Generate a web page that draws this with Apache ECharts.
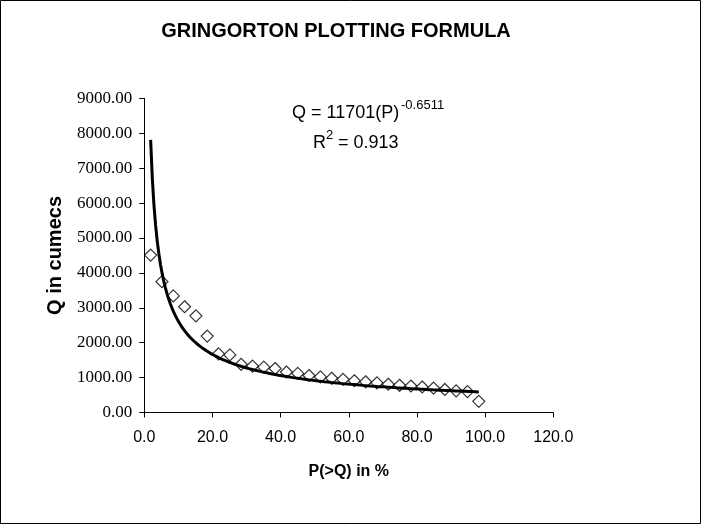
<!DOCTYPE html>
<html>
<head>
<meta charset="utf-8">
<script src="https://cdn.jsdelivr.net/npm/echarts@6/dist/echarts.min.js"></script>
<style>
  html, body { margin: 0; padding: 0; background: #fff; }
  #chart { width: 702px; height: 529px; }
</style>
</head>
<body>
<div id="chart"></div>
<script>
// Exceedance probability P(>Q) in % for each ranked flood
const exceedancePct = [1.86, 5.18, 8.50, 11.82, 15.14, 18.46, 21.78, 25.10, 28.42, 31.74,
  35.06, 38.38, 41.70, 45.02, 48.34, 51.66, 54.98, 58.30, 61.62, 64.94,
  68.26, 71.58, 74.90, 78.22, 81.54, 84.86, 88.18, 91.50, 94.82, 98.14];

// Discharge Q in cumecs, ranked largest to smallest
const discharge = [4510, 3750, 3340, 3030, 2770, 2190, 1680, 1650, 1380, 1330,
  1300, 1260, 1160, 1120, 1060, 1020, 980, 950, 910, 880,
  850, 810, 780, 760, 730, 700, 660, 620, 600, 320];

// Power trendline coefficients: Q = a * P^b
const trendA = 11701;
const trendB = -0.6511;
const trendR2 = '0.913';

const xTicks = { min: 0, max: 120, interval: 20 };
const yTicks = { min: 0, max: 9000, interval: 1000 };

const scatterData = exceedancePct.map((p, i) => [p, discharge[i]]);

// Trendline sampled over the range of the plotted data
const pMin = Math.min(...exceedancePct);
const pMax = Math.max(...exceedancePct);
const trendData = [];
const steps = 200;
for (let i = 0; i <= steps; i++) {
  const p = pMin + (pMax - pMin) * i / steps;
  trendData.push([p, trendA * Math.pow(p, trendB)]);
}

const chart = echarts.init(document.getElementById('chart'));
chart.setOption({
  animation: false,
  backgroundColor: '#fff',
  title: {
    text: 'GRINGORTON PLOTTING FORMULA',
    left: 331,
    top: 16,
    textAlign: 'center',
    textStyle: { fontFamily: 'Liberation Sans', fontWeight: 'bold', fontSize: 20, color: '#000' }
  },
  grid: { left: 144.3, right: 148.7, top: 98.4, bottom: 116.5, containLabel: false },
  xAxis: {
    type: 'value',
    min: xTicks.min, max: xTicks.max, interval: xTicks.interval,
    name: 'P(>Q) in %',
    nameLocation: 'middle',
    nameGap: 51,
    nameTextStyle: { fontFamily: 'Liberation Sans', fontWeight: 'bold', fontSize: 16, color: '#000' },
    axisLine: { show: true, lineStyle: { color: '#000', width: 1 } },
    axisTick: { show: true, length: 5, lineStyle: { color: '#000' } },
    axisLabel: {
      margin: 17,
      fontFamily: 'Liberation Sans', fontSize: 16, color: '#000',
      formatter: v => v.toFixed(1)
    },
    splitLine: { show: false }
  },
  yAxis: {
    type: 'value',
    min: yTicks.min, max: yTicks.max, interval: yTicks.interval,
    name: 'Q in cumecs',
    nameLocation: 'middle',
    nameGap: 79,
    nameTextStyle: { fontFamily: 'Liberation Sans', fontWeight: 'bold', fontSize: 20, color: '#000' },
    axisLine: { show: true, lineStyle: { color: '#000', width: 1 } },
    axisTick: { show: true, length: 5, lineStyle: { color: '#000' } },
    axisLabel: {
      margin: 12,
      fontFamily: 'Liberation Serif', fontSize: 17, color: '#000',
      formatter: v => v.toFixed(2)
    },
    splitLine: { show: false }
  },
  series: [
    {
      name: 'Q',
      type: 'scatter',
      data: scatterData,
      symbol: 'diamond',
      symbolSize: 12,
      itemStyle: { color: '#fff', borderColor: '#000', borderWidth: 1.2 },
      z: 2
    },
    {
      name: 'Power trend',
      type: 'line',
      data: trendData,
      showSymbol: false,
      smooth: false,
      lineStyle: { color: '#000', width: 3 },
      z: 3
    }
  ],
  graphic: [
    {
      type: 'rect',
      shape: { x: 0.5, y: 0.5, width: 700, height: 523 },
      style: { fill: 'none', stroke: '#000', lineWidth: 1 },
      silent: true
    },
    {
      type: 'text',
      style: { text: 'Q = 11701(P)', x: 292, y: 113, font: '18px "Liberation Sans"', fill: '#000', textAlign: 'left', textVerticalAlign: 'middle' }
    },
    {
      type: 'text',
      style: { text: trendB.toString(), x: 401, y: 105, font: '13px "Liberation Sans"', fill: '#000', textAlign: 'left', textVerticalAlign: 'middle' }
    },
    {
      type: 'text',
      style: { text: 'R', x: 313, y: 143, font: '18px "Liberation Sans"', fill: '#000', textAlign: 'left', textVerticalAlign: 'middle' }
    },
    {
      type: 'text',
      style: { text: '2', x: 326, y: 135, font: '13px "Liberation Sans"', fill: '#000', textAlign: 'left', textVerticalAlign: 'middle' }
    },
    {
      type: 'text',
      style: { text: ' = ' + trendR2, x: 333, y: 143, font: '18px "Liberation Sans"', fill: '#000', textAlign: 'left', textVerticalAlign: 'middle' }
    }
  ]
});
</script>
</body>
</html>
